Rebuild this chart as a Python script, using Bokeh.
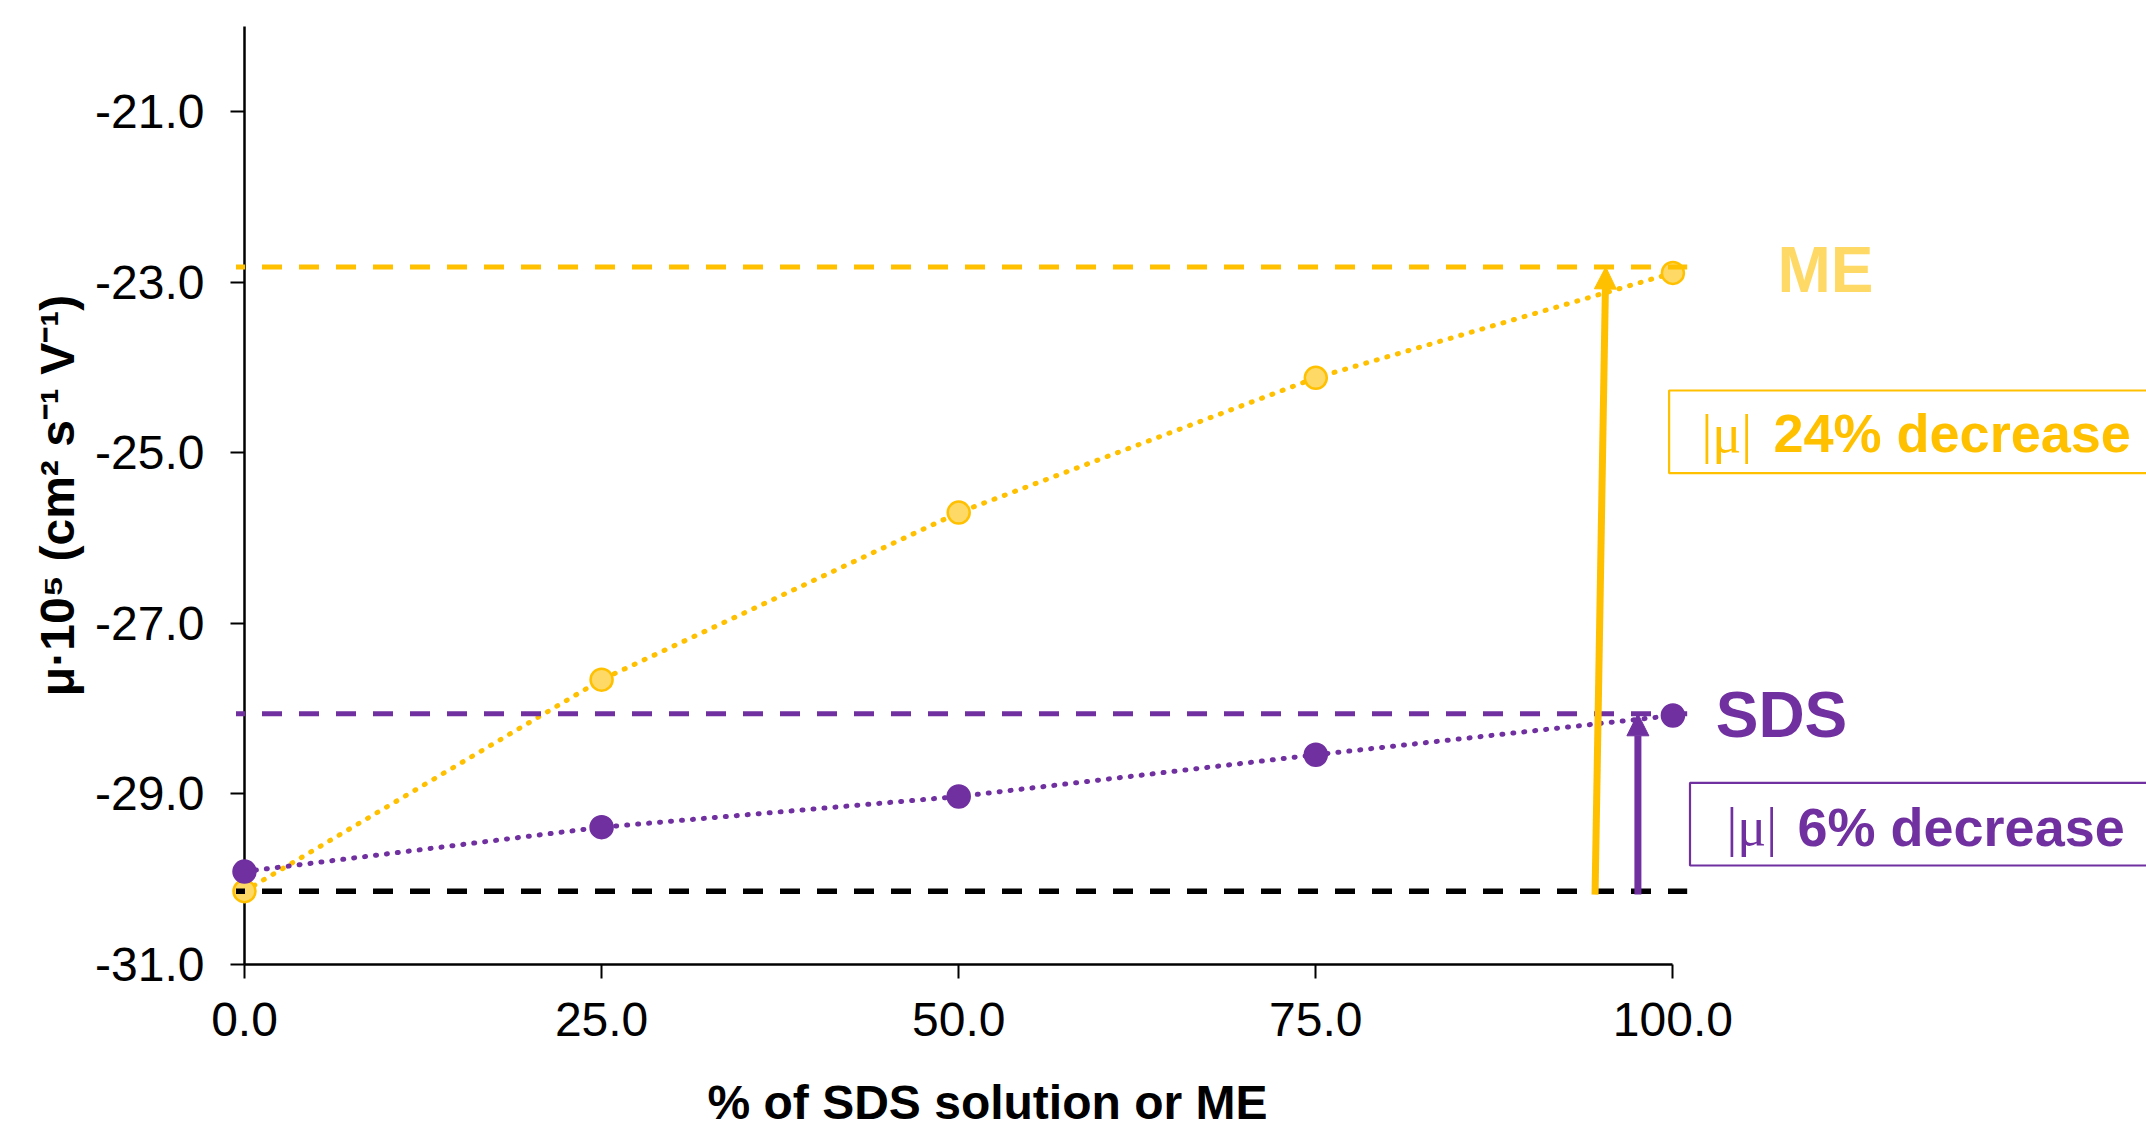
import numpy as np
from bokeh.plotting import figure
from bokeh.models import (Range1d, FixedTicker, NumeralTickFormatter,
                          Arrow, NormalHead, ColumnDataSource)
from bokeh.core.properties import value
from bokeh.embed import file_html
from bokeh.resources import INLINE

# ---------------- data ----------------
pct = [0, 25, 50, 75, 100]
me_mu = [-30.14, -27.66, -25.70, -24.12, -22.89]
sds_mu = [-29.91, -29.39, -29.03, -28.54, -28.08]
baseline_level = -30.14
me_level = -22.82
sds_level = -28.06
x_ticks = [0, 25, 50, 75, 100]
y_ticks = [-31, -29, -27, -25, -23, -21]
series_names = ["ME", "SDS"]
decrease_labels = ["24% decrease", "6% decrease"]
arrow_x_start = [94.55, 97.55]
arrow_x_end = [95.3, 97.55]
x_title = "% of SDS solution or ME"
y_title = "\u03bc\u00b710\u2075 (cm\u00b2 s\u207b\u00b9 V\u207b\u00b9)"

# ---------------- styling / layout ----------------
YEL = "#FFC000"
YEL_LIGHT = "#FFD966"
PUR = "#7030A0"
FONT = "Liberation Sans"

W, H = 2146, 1129
MB_L, MB_R, MB_T, MB_B = 244, 0, 26, 165
frame_left = MB_L
frame_right = W - MB_R
frame_top = MB_T
frame_bottom = H - MB_B
X0_PX = frame_left     # page x of data x = 0
PX_PER_X = 14.284      # pixels per x unit
Y_START, Y_END = -31, -20
PX_PER_Y = (frame_bottom - frame_top) / (Y_END - Y_START)


def dx(px):
    return (px - X0_PX) / PX_PER_X


def dy(py):
    return Y_START + (frame_bottom - py) / PX_PER_Y


p = figure(width=W, height=H, output_backend="svg", toolbar_location=None,
           x_range=Range1d(0, dx(frame_right)),
           y_range=Range1d(Y_START, Y_END),
           min_border_left=MB_L, min_border_right=MB_R,
           min_border_top=MB_T, min_border_bottom=MB_B)
p.outline_line_color = None
p.xgrid.visible = False
p.ygrid.visible = False
p.background_fill_color = "white"
p.border_fill_color = "white"

# axes
for ax in (p.xaxis, p.yaxis):
    ax.major_tick_out = 14
    ax.major_tick_in = 0
    ax.minor_tick_out = 0
    ax.minor_tick_in = 0
    ax.axis_line_width = 2.5
    ax.axis_line_color = "black"
    ax.major_tick_line_width = 2
    ax.major_tick_line_color = "black"
    ax.major_label_text_font = FONT
    ax.major_label_text_font_size = "48px"
    ax.major_label_text_color = "black"
    ax.formatter = NumeralTickFormatter(format="0.0")
p.xaxis.ticker = FixedTicker(ticks=x_ticks, minor_ticks=[])
p.yaxis.ticker = FixedTicker(ticks=y_ticks, minor_ticks=[])
p.xaxis.bounds = (0, 100)
p.xaxis.major_label_standoff = 24
p.yaxis.major_label_standoff = 26
p.yaxis.axis_label = y_title
p.yaxis.axis_label_text_font = FONT
p.yaxis.axis_label_text_font_size = "48px"
p.yaxis.axis_label_text_font_style = "bold"
p.yaxis.axis_label_text_color = "black"
p.yaxis.axis_label_standoff = 8

# dotted series lines (overlay level so the points at x=0 are not cut)
p.line(pct, me_mu, line_color=YEL, line_width=5, line_dash="1 10",
       line_cap="round", level="overlay")
p.line(pct, sds_mu, line_color=PUR, line_width=5, line_dash="1 10",
       line_cap="round", level="overlay")

# markers
p.scatter(pct, me_mu, size=22, fill_color=YEL_LIGHT, line_color=YEL,
          line_width=2.5, level="overlay")
p.scatter(pct, sds_mu, size=23, fill_color=PUR, line_color=PUR,
          line_width=1.5, level="overlay")

# dashed reference lines
dash_x = [dx(235.5), 101.0]
p.line(dash_x, [me_level, me_level], line_color=YEL, line_width=5,
       line_dash="20 17", line_dash_offset=11, level="overlay")
p.line(dash_x, [sds_level, sds_level], line_color=PUR, line_width=5,
       line_dash="20 17", line_dash_offset=11, level="overlay")
p.line(dash_x, [baseline_level, baseline_level], line_color="black", line_width=5.5,
       line_dash="20 17", line_dash_offset=11, level="overlay")

# arrows
arrow_y_end = [me_level, sds_level]
arrow_cols = [YEL, PUR]
for xs, xe, ye, c in zip(arrow_x_start, arrow_x_end, arrow_y_end, arrow_cols):
    p.add_layout(Arrow(end=NormalHead(size=22, fill_color=c, line_color=c, line_width=1),
                       x_start=xs, y_start=baseline_level - 0.04, x_end=xe, y_end=ye,
                       line_color=c, line_width=7, level="overlay"))

# boxes around the decrease annotations
box_src = ColumnDataSource(dict(
    left=[dx(1668.6), dx(1689.5)],
    right=[dx(frame_right) + 10, dx(frame_right) + 10],
    top=[dy(390), dy(782.3)],
    bottom=[dy(472.7), dy(865)],
    color=[YEL, PUR],
))
p.quad(left="left", right="right", top="top", bottom="bottom", source=box_src,
       fill_color=None, line_color="color", line_width=2.2)

# |μ| symbols
mu_src = ColumnDataSource(dict(x=[dx(1701), dx(1726)], y=[dy(433), dy(826)],
                               t=["|\u03bc|", "|\u03bc|"], c=[YEL, PUR]))
p.text(x="x", y="y", text="t", source=mu_src, text_color="c",
       text_font=value("Liberation Serif"), text_font_size="54px",
       text_align="left", text_baseline="middle")

# decrease texts
dec_src = ColumnDataSource(dict(x=[dx(1773), dx(1797)], y=[dy(432.5), dy(826)],
                                t=decrease_labels, c=[YEL, PUR]))
p.text(x="x", y="y", text="t", source=dec_src, text_color="c",
       text_font=value(FONT), text_font_size="54px", text_font_style="bold",
       text_align="left", text_baseline="middle")

# series name labels
name_src = ColumnDataSource(dict(x=[dx(1825), dx(1781)], y=[dy(269), dy(714)],
                                 t=series_names, c=[YEL_LIGHT, PUR]))
p.text(x="x", y="y", text="t", source=name_src, text_color="c",
       text_font=value(FONT), text_font_size="64px", text_font_style="bold",
       text_align="center", text_baseline="middle")

# x-axis title (drawn on overlay level, below the frame)
p.text(x=[dx(987)], y=[dy(1102)], text=[x_title], text_color="black",
       text_font=value(FONT), text_font_size="48px", text_font_style="bold",
       text_align="center", text_baseline="middle", level="overlay")

open("out.html", "w").write(file_html(p, INLINE))
